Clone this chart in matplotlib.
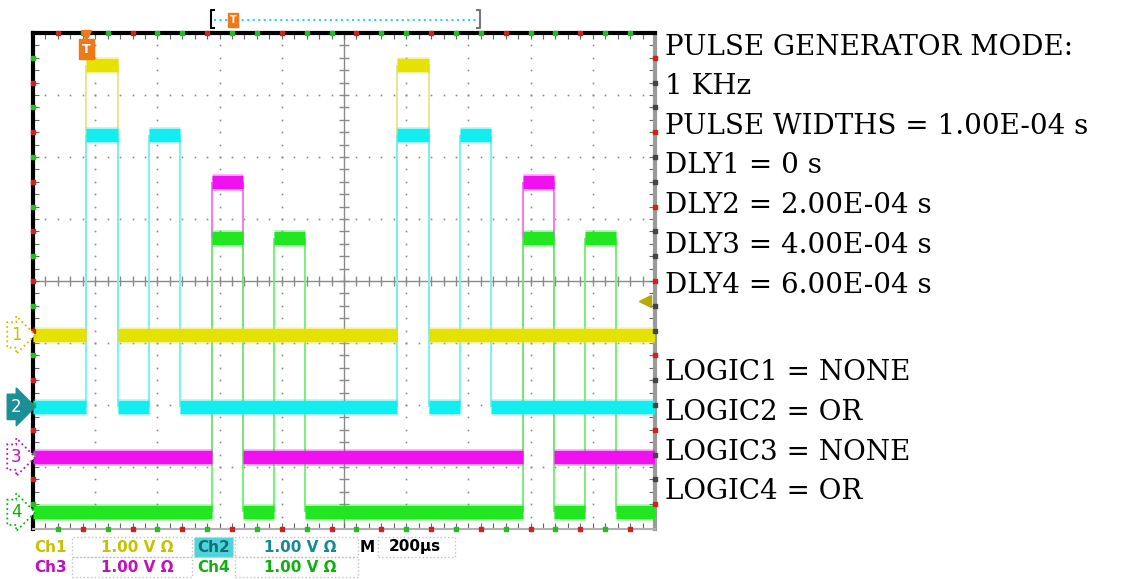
import numpy as np
import matplotlib.pyplot as plt
from matplotlib.lines import Line2D
from matplotlib.patches import Rectangle

W, H = 1122, 579
US_PER_DIV = 200  # M 200us timebase

# pulse edges (rise, fall, rise, fall ...) in microseconds from left edge of screen
ch1_edges = [172, 272, 1172, 1272]
ch2_edges = [172, 272, 372, 472, 1172, 1272, 1372, 1472]
ch3_edges = [576, 676, 1576, 1676]
ch4_edges = [576, 676, 776, 876, 1576, 1676, 1776, 1876]

# screen position of low / high level of each trace (divisions from bottom)
ch_low = [3.13, 1.97, 1.16, 0.27]
ch_high = [7.48, 6.35, 5.59, 4.70]
ch_names = ["1", "2", "3", "4"]

trace_colors = ["#e6e200", "#12eef0", "#f010f0", "#22e622"]
edge_colors = ["#e4e48a", "#70f2f2", "#f070f0", "#70ee70"]
label_colors = ["#c8c000", "#138a94", "#c010c0", "#10b010"]

readout_names = ["Ch1", "Ch2", "Ch3", "Ch4"]
scale_text = "1.00 V \u03a9"
timebase_text = "200\u00b5s"
trigger_level = 3.68

info_lines = ["PULSE GENERATOR MODE:", "1 KHz", "PULSE WIDTHS = 1.00E-04 s",
              "DLY1 = 0 s", "DLY2 = 2.00E-04 s", "DLY3 = 4.00E-04 s",
              "DLY4 = 6.00E-04 s", "LOGIC1 = NONE", "LOGIC2 = OR",
              "LOGIC3 = NONE", "LOGIC4 = OR"]
info_baselines = [55, 94, 134, 173, 213, 253, 293, 380, 420, 460, 499]


def fx(px):
    return px / W


def fy(py):
    return 1 - py / H


fig = plt.figure(figsize=(W / 100, H / 100), dpi=100)
fig.patch.set_facecolor("white")
ax = fig.add_axes([fx(33), fy(529), 622 / W, 496 / H])
ax.set_xlim(0, 10)
ax.set_ylim(0, 8)

# graticule: dotted grid lines, solid centre cross
for gx in range(1, 10):
    if gx == 5:
        continue
    yy = np.arange(0.2, 8, 0.2)
    ax.plot(np.full_like(yy, gx), yy, ls="none", marker="s", ms=1.2, mew=0,
            color="#8a8a8a", zorder=1)
for gy in range(1, 8):
    if gy == 4:
        continue
    xx = np.arange(0.2, 10, 0.2)
    ax.plot(xx, np.full_like(xx, gy), ls="none", marker="s", ms=1.2, mew=0,
            color="#8a8a8a", zorder=1)
ax.axhline(4, color="#8a8a8a", lw=1, zorder=1)
ax.axvline(5, color="#8a8a8a", lw=1, zorder=1)
xx = np.arange(0.2, 10, 0.2)
ax.plot(xx, np.full_like(xx, 4), ls="none", marker="|", ms=7, mew=1, color="#8a8a8a", zorder=1)
yy = np.arange(0.2, 8, 0.2)
ax.plot(np.full_like(yy, 5), yy, ls="none", marker="_", ms=7, mew=1, color="#8a8a8a", zorder=1)

ax.set_xticks(np.arange(0, 10.01, 0.2))
ax.set_yticks(np.arange(0, 8.01, 0.2))
ax.tick_params(direction="in", length=4, width=0.8, color="#666666",
               top=True, right=True, labelbottom=False, labelleft=False)
for side, c, w in [("left", "black", 3), ("top", "black", 3),
                   ("right", "#9a9a9a", 3), ("bottom", "#b0b0b0", 1.5)]:
    ax.spines[side].set_color(c)
    ax.spines[side].set_linewidth(w)

# coloured marks on the frame
for i, yv in enumerate(np.arange(0.4, 8, 0.4)):
    ax.plot(0, yv, "s", ms=2.2, color="#d02020" if i % 2 else "#20c020", clip_on=False, zorder=6)
    ax.plot(10, yv, "s", ms=2.2, color="#d02020" if i % 3 == 0 else "#444444", clip_on=False, zorder=6)
for i, xv in enumerate(np.arange(0.4, 10, 0.4)):
    ax.plot(xv, 8, "s", ms=2.2, color="#d02020" if i % 3 == 0 else "#20c020", clip_on=False, zorder=6)
    ax.plot(xv, 0, "s", ms=2.2, color="#d02020" if i % 2 else "#20c020", clip_on=False, zorder=6)

# traces
all_edges = [ch1_edges, ch2_edges, ch3_edges, ch4_edges]
for k in range(4):
    edges = [e / US_PER_DIV for e in all_edges[k]]
    xs = [0] + edges + [10]
    for i in range(len(xs) - 1):
        lvl = ch_low[k] if i % 2 == 0 else ch_high[k]
        ax.plot([xs[i], xs[i + 1]], [lvl, lvl], color=trace_colors[k], lw=12,
                alpha=0.35, solid_capstyle="butt", zorder=3 + k * 0.1)
        ax.plot([xs[i], xs[i + 1]], [lvl, lvl], color=trace_colors[k], lw=9.5,
                solid_capstyle="butt", zorder=3 + k * 0.1)
    ax.vlines(edges, ch_low[k], ch_high[k], color=edge_colors[k], lw=1.3, zorder=2.5)

    # channel ground markers on the left
    if k == 1:
        bb = dict(boxstyle="rarrow,pad=0.22", fc="#1a8f95", ec="#1a8f95")
        tc = "white"
    else:
        bb = dict(boxstyle="rarrow,pad=0.22", fc="white", ec=label_colors[k], ls=":", lw=1.3)
        tc = label_colors[k]
    ax.text(-0.27, ch_low[k], ch_names[k], ha="center", va="center", fontsize=12,
            color=tc, bbox=bb, clip_on=False, zorder=7)

# trigger position and level markers
tx = ch1_edges[0] / US_PER_DIV
ax.plot(tx, 7.97, marker="v", ms=7, color="#f07818", clip_on=False, zorder=8)
ax.text(tx, 7.74, "T", ha="center", va="center", fontsize=9, fontweight="bold",
        color="white", bbox=dict(boxstyle="square,pad=0.25", fc="#f07818", ec="#f07818"), zorder=8)
ax.plot(9.84, trigger_level, marker="<", ms=9, color="#b8a800", zorder=8)

# record view bar above the screen
fig.add_artist(Line2D([fx(214), fx(211), fx(211), fx(214)], [fy(10), fy(10), fy(28), fy(28)],
                      color="black", lw=1.5))
fig.add_artist(Line2D([fx(477), fx(480), fx(480), fx(477)], [fy(10), fy(10), fy(28), fy(28)],
                      color="#777777", lw=1.5))
fig.add_artist(Line2D([fx(214), fx(478)], [fy(20), fy(20)], color="#30d4e4", lw=1.5, ls=":"))
fig.text(fx(233), fy(20), "T", ha="center", va="center", fontsize=7, fontweight="bold",
         color="white", bbox=dict(boxstyle="square,pad=0.2", fc="#f07818", ec="#f07818"))

# readouts below the screen
rf = dict(fontsize=11, fontweight="bold", family="DejaVu Sans", va="center")
for r, yc in enumerate([547, 567]):
    y1 = yc + 10
    fig.add_artist(Rectangle((fx(72), fy(y1)), (192 - 72) / W, 20 / H, transform=fig.transFigure,
                             fill=False, ec="#c4c4c4", ls=":", lw=1))
    fig.add_artist(Rectangle((fx(235), fy(y1)), (358 - 235) / W, 20 / H, transform=fig.transFigure,
                             fill=False, ec="#c4c4c4", ls=":", lw=1))
    ka, kb = 2 * r, 2 * r + 1
    fig.text(fx(34), fy(yc), readout_names[ka], color=label_colors[ka], **rf)
    fig.text(fx(137), fy(yc), scale_text, color=label_colors[ka], ha="center", **rf)
    if kb == 1:
        fig.add_artist(Rectangle((fx(194), fy(y1)), 39 / W, 20 / H, transform=fig.transFigure,
                                 fc="#4fd3d8", ec="#9adfe2", ls=":", lw=1))
        fig.text(fx(197), fy(yc), readout_names[kb], color="#0e6f76", **rf)
    else:
        fig.text(fx(197), fy(yc), readout_names[kb], color=label_colors[kb], **rf)
    fig.text(fx(300), fy(yc), scale_text, color=label_colors[kb], ha="center", **rf)

fig.text(fx(360), fy(547), "M", color="black", **rf)
fig.add_artist(Rectangle((fx(378), fy(557)), (455 - 378) / W, 20 / H, transform=fig.transFigure,
                         fill=False, ec="#c4c4c4", ls=":", lw=1))
fig.text(fx(415), fy(547), timebase_text, color="black", ha="center", **rf)

# settings text on the right
for line, yb in zip(info_lines, info_baselines):
    fig.text(fx(665), fy(yb), line, fontsize=20, family="DejaVu Serif", color="black",
             va="baseline", ha="left")

fig.savefig("out.png", dpi=100)
